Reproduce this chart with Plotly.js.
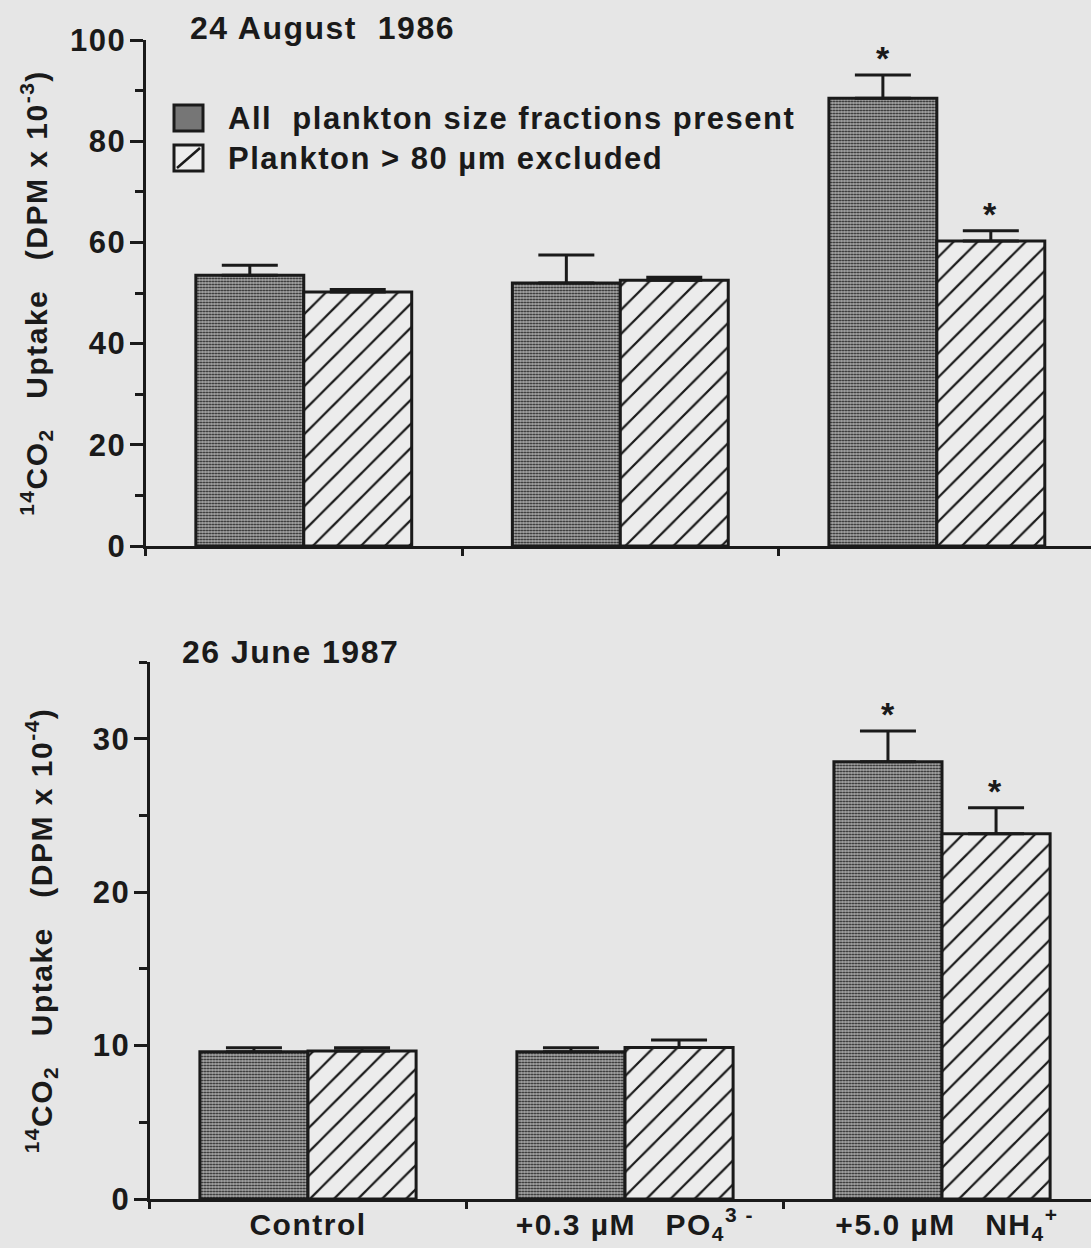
<!DOCTYPE html>
<html>
<head>
<meta charset="utf-8">
<script src="https://cdn.plot.ly/plotly-3.0.1.min.js"></script>
<style>
  html, body { margin: 0; padding: 0; background: #e6e6e6; }
  #chart { width: 1091px; height: 1248px; }
  svg text { letter-spacing: 1.5px; }
</style>
</head>
<body>
<div id="chart"></div>
<script>
// Treatments (x categories)
const categories = [
  'Control',
  '\u00a0\u00a0+0.3\u00a0\u00b5M\u00a0\u00a0\u00a0PO<sub>4</sub><sup>3\u00a0-</sup>',
  '\u00a0+5.0\u00a0\u00b5M\u00a0\u00a0\u00a0NH<sub>4</sub><sup>+</sup>'
];

// 24 August 1986 — 14CO2 uptake (DPM x 10^-3)
const augAll = [53.5, 52.0, 88.5];
const augAllErr = [2.0, 5.5, 4.6];
const augExcl = [50.2, 52.5, 60.3];
const augExclErr = [0.5, 0.6, 2.0];

// 26 June 1987 — 14CO2 uptake (DPM x 10^-4)
const junAll = [9.6, 9.6, 28.5];
const junAllErr = [0.25, 0.25, 2.0];
const junExcl = [9.65, 9.87, 23.8];
const junExclErr = [0.2, 0.5, 1.7];

// significance flags (asterisks)
const augAllSig = [false, false, true];
const augExclSig = [false, false, true];
const junAllSig = [false, false, true];
const junExclSig = [false, false, true];

const seriesNames = ['All\u00a0\u00a0plankton size fractions present', 'Plankton > 80 \u00b5m excluded'];

const FONT = 'Liberation Sans, Arial, Helvetica, sans-serif';
const INK = '#1a1a1a';
const BG = '#e6e6e6';
const W = 1091, H = 1248;

const densePattern = { shape: '.', size: 3, solidity: 0.42, fgcolor: '#1e1e1e', bgcolor: '#acacac', fillmode: 'replace' };
const hatchPattern = { shape: '/', size: 17, solidity: 0.13, fgcolor: INK, bgcolor: '#ececec', fillmode: 'replace' };

function barTrace(y, err, name, pattern, xa, ya) {
  return {
    type: 'bar', x: categories, y: y, name: name,
    xaxis: xa, yaxis: ya, showlegend: false,
    marker: { color: pattern.bgcolor, pattern: pattern, line: { color: INK, width: 3 } },
    error_y: { type: 'data', symmetric: false, array: err, arrayminus: err.map(() => 0),
               color: INK, thickness: 3, width: 28 },
    hoverinfo: 'skip'
  };
}

const data = [
  barTrace(augAll, augAllErr, seriesNames[0], densePattern, 'x', 'y'),
  barTrace(augExcl, augExclErr, seriesNames[1], hatchPattern, 'x', 'y'),
  barTrace(junAll, junAllErr, seriesNames[0], densePattern, 'x2', 'y2'),
  barTrace(junExcl, junExclErr, seriesNames[1], hatchPattern, 'x2', 'y2')
];

// asterisks above significant bars (category index +/- half a bar slot)
const BAR_SHIFT = 0.17;
const annotations = [];
function addStars(vals, errs, sig, shift, xref, yref) {
  vals.forEach((v, i) => {
    if (!sig[i]) return;
    annotations.push({
      x: i + shift, y: v + errs[i], xref: xref, yref: yref,
      text: '*', showarrow: false, yanchor: 'bottom', yshift: -4,
      font: { family: FONT, size: 34, weight: 'bold', color: INK }
    });
  });
}
addStars(augAll, augAllErr, augAllSig, -BAR_SHIFT, 'x', 'y');
addStars(augExcl, augExclErr, augExclSig, BAR_SHIFT, 'x', 'y');
addStars(junAll, junAllErr, junAllSig, -BAR_SHIFT, 'x2', 'y2');
addStars(junExcl, junExclErr, junExclSig, BAR_SHIFT, 'x2', 'y2');

// panel dates
const dateFont = { family: FONT, size: 32, weight: 'bold', color: INK };
annotations.push({
  text: '24 August\u00a0\u00a01986', xref: 'paper', yref: 'paper',
  x: 188 / W, y: 1 - 48 / H, xanchor: 'left', yanchor: 'bottom', showarrow: false, font: dateFont
});
annotations.push({
  text: '26 June 1987', xref: 'paper', yref: 'paper',
  x: 180 / W, y: 1 - 672 / H, xanchor: 'left', yanchor: 'bottom', showarrow: false, font: dateFont
});

// key for the two size-fraction treatments
const keyFont = { family: FONT, size: 31, weight: 'bold', color: INK };
const keyRows = [118, 158];
seriesNames.forEach((name, i) => {
  annotations.push({
    text: name, xref: 'paper', yref: 'paper',
    x: 226 / W, y: 1 - keyRows[i] / H, xanchor: 'left', yanchor: 'middle', showarrow: false, font: keyFont
  });
});
const shapes = [
  { type: 'rect', xref: 'paper', yref: 'paper', x0: 174 / W, x1: 203 / W,
    y0: 1 - (keyRows[0] - 13) / H, y1: 1 - (keyRows[0] + 13) / H,
    fillcolor: '#767676', line: { color: INK, width: 3 } },
  { type: 'rect', xref: 'paper', yref: 'paper', x0: 174 / W, x1: 203 / W,
    y0: 1 - (keyRows[1] - 13) / H, y1: 1 - (keyRows[1] + 13) / H,
    fillcolor: '#ececec', line: { color: INK, width: 3 } },
  { type: 'line', xref: 'paper', yref: 'paper', x0: 177 / W, x1: 200 / W,
    y0: 1 - (keyRows[1] + 10) / H, y1: 1 - (keyRows[1] - 10) / H,
    line: { color: INK, width: 2.5 } }
];

const tickFont = { family: FONT, size: 31, weight: 'bold', color: INK };
const titleFont = { family: FONT, size: 30, weight: 'bold', color: INK };

function yAxis(domain, range, dtick, minorDtick, title, standoff, anchor) {
  return {
    domain: domain, range: range, anchor: anchor,
    dtick: dtick, tick0: 0,
    ticks: 'outside', ticklen: 13, tickwidth: 3, tickcolor: INK,
    minor: { dtick: minorDtick, tick0: 0, ticks: 'outside', ticklen: 8, tickwidth: 3, tickcolor: INK, showgrid: false },
    showline: true, linewidth: 3, linecolor: INK,
    showgrid: false, zeroline: false,
    ticklabelstandoff: -3,
    tickfont: tickFont,
    title: { text: title, font: titleFont, standoff: standoff },
    fixedrange: true
  };
}

function xAxis(domain, range, anchor, showLabels) {
  return {
    domain: domain, range: range, anchor: anchor, type: 'category',
    tickson: 'boundaries', ticks: 'outside', ticklen: 7, tickwidth: 3, tickcolor: INK,
    showline: true, linewidth: 3, linecolor: INK,
    showgrid: false, zeroline: false,
    showticklabels: showLabels,
    ticklabelstandoff: -3,
    tickfont: { family: FONT, size: 30, weight: 'bold', color: INK },
    fixedrange: true
  };
}

const layout = {
  width: W, height: H,
  margin: { l: 0, r: 0, t: 0, b: 0 },
  paper_bgcolor: BG, plot_bgcolor: 'rgba(0,0,0,0)',
  barmode: 'group', bargap: 0.318, bargroupgap: 0,
  showlegend: false,
  xaxis: xAxis([145.5 / W, 1], [-0.5, 2.487], 'y', false),
  yaxis: yAxis([1 - 546 / H, 1 - 40 / H], [0, 100], 20, 10,
    '<sup>14</sup>CO<sub>2</sub>\u00a0\u00a0\u00a0Uptake\u00a0\u00a0\u00a0(DPM x 10<sup>-3</sup>)', 14, 'x'),
  xaxis2: xAxis([149.5 / W, 1], [-0.5, 2.47], 'y2', true),
  yaxis2: yAxis([1 - 1199 / H, 1 - 662 / H], [0, 35], 10, 5,
    '<sup>14</sup>CO<sub>2</sub>\u00a0\u00a0\u00a0Uptake\u00a0\u00a0\u00a0(DPM x 10<sup>-4</sup>)', 32, 'x2'),
  annotations: annotations,
  shapes: shapes
};

Plotly.newPlot('chart', data, layout, { staticPlot: true, displayModeBar: false });
</script>
</body>
</html>
